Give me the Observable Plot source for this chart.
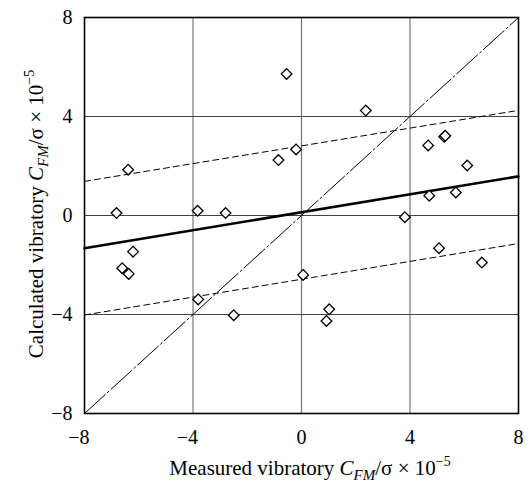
<!DOCTYPE html>
<html>
<head>
<meta charset="utf-8">
<script src="https://cdn.jsdelivr.net/npm/d3@7"></script>
<script src="https://cdn.jsdelivr.net/npm/@observablehq/plot@0.6"></script>
<style>
  html, body { margin: 0; padding: 0; background: #fff; }
  #chart svg { display: block; }
</style>
</head>
<body>
<div id="chart"></div>
<script>
// Measured (x) vs calculated (y) vibratory C_FM/σ × 10^-5
const measured   = [-6.82, -6.39, -3.83, -2.80, -0.55, -0.85, -0.20, 2.37, 3.81, 4.67, 5.26, 5.30, 6.11, 4.71, 5.69,
                    -6.21, -6.61, -6.37, -3.81, -2.50, 0.06, 1.02, 0.92, 5.07, 6.65];
const calculated = [0.10, 1.85, 0.19, 0.10, 5.72, 2.24, 2.67, 4.24, -0.07, 2.83, 3.18, 3.22, 2.02, 0.80, 0.93,
                    -1.46, -2.13, -2.36, -3.39, -4.03, -2.40, -3.79, -4.26, -1.32, -1.90];

// Reference lines
const identityX = [-8, 8];
const identityY = [-8, 8];
const fitX = [-8, 8];
const fitY = [-1.32, 1.58];
const bandX = [-8, 7.85];
const upperY = [1.38, 4.22];
const lowerY = [-4.02, -1.16];

const ticks = [-8, -4, 0, 4, 8];
const gridTicks = [-4, 0, 4];

const points = measured.map((x, i) => ({x, y: calculated[i]}));
const toLine = (xs, ys) => xs.map((x, i) => ({x, y: ys[i]}));

const FONT = "'Liberation Serif', 'Times New Roman', serif";

const chart = Plot.plot({
  width: 530,
  height: 489,
  marginLeft: 84,
  marginRight: 12,
  marginTop: 17,
  marginBottom: 76,
  style: {fontFamily: FONT, fontSize: "20px", color: "#000", background: "#fff"},
  x: {domain: [-8, 8], ticks: ticks},
  y: {domain: [-8, 8], ticks: ticks},
  marks: [
    Plot.ruleX(gridTicks, {stroke: "#777", strokeWidth: 1.2}),
    Plot.ruleY(gridTicks, {stroke: "#444", strokeWidth: 1.2}),
    Plot.line(toLine(identityX, identityY), {x: "x", y: "y", stroke: "#000", strokeWidth: 1, strokeDasharray: "28,3,2,3"}),
    Plot.line(toLine(bandX, upperY), {x: "x", y: "y", stroke: "#000", strokeWidth: 1, strokeDasharray: "6,4"}),
    Plot.line(toLine(bandX, lowerY), {x: "x", y: "y", stroke: "#000", strokeWidth: 1, strokeDasharray: "6,4"}),
    Plot.line(toLine(fitX, fitY), {x: "x", y: "y", stroke: "#000", strokeWidth: 2.6}),
    Plot.dot(points, {x: "x", y: "y", symbol: "diamond2", r: 4.8, stroke: "#000", strokeWidth: 1.3, fill: "#fff"}),
    Plot.frame({stroke: "#000", strokeWidth: 1.6}),
    Plot.axisX({ticks: ticks, tickSize: 0, tickPadding: 16, textAnchor: "end", dx: 5, label: null, fontSize: 20}),
    Plot.axisY({ticks: ticks, tickSize: 0, tickPadding: 12, label: null, fontSize: 20})
  ]
});

document.getElementById("chart").appendChild(chart);

// Axis titles with subscripts / superscripts
const svg = d3.select(chart);
function title(sel, lead) {
  sel.attr("font-family", FONT).attr("font-size", 21).attr("fill", "#000");
  sel.append("tspan").text(lead);
  sel.append("tspan").attr("font-style", "italic").text("C");
  sel.append("tspan").attr("font-style", "italic").attr("font-size", 15).attr("dy", 5).text("FM");
  sel.append("tspan").attr("dy", -5).text("/σ × 10");
  sel.append("tspan").attr("font-size", 14).attr("dy", -9).text("−5");
}
const xt = svg.append("text").attr("x", 310).attr("y", 475).attr("text-anchor", "middle");
title(xt, "Measured vibratory ");
const yt = svg.append("text").attr("text-anchor", "middle")
  .attr("transform", "translate(43,214) rotate(-90)");
title(yt, "Calculated vibratory ");
</script>
</body>
</html>
